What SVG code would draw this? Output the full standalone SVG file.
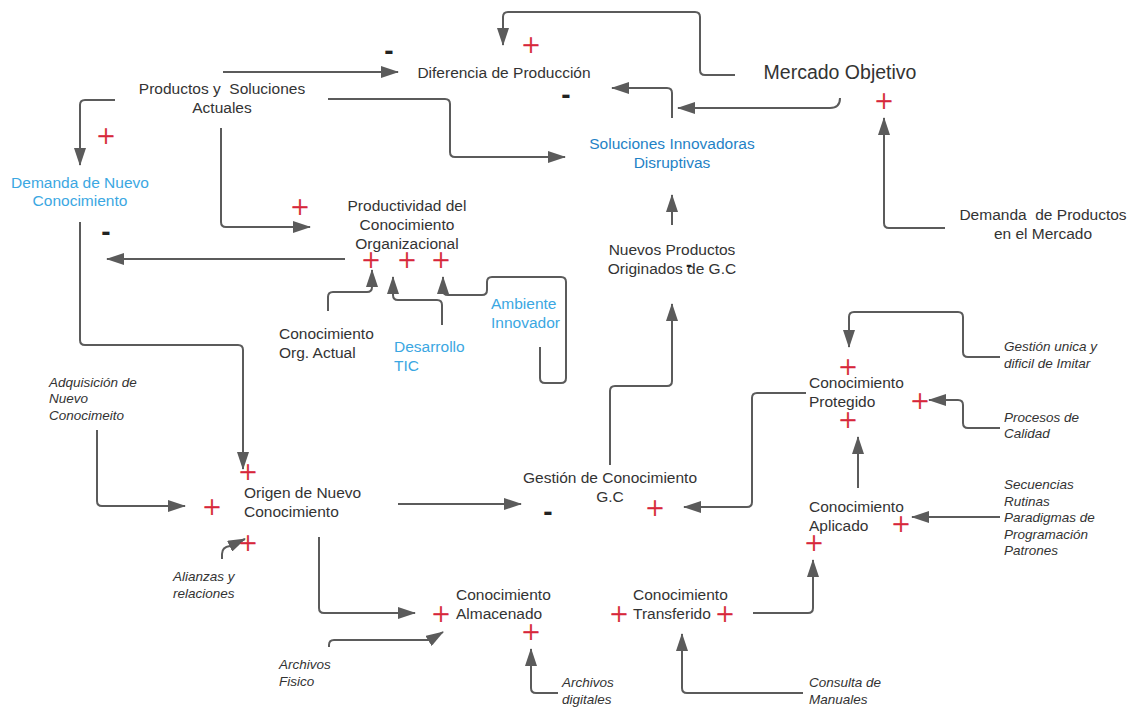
<svg xmlns="http://www.w3.org/2000/svg" width="1140" height="709" viewBox="0 0 1140 709">
  <style>
    .t { font-family: "Liberation Sans", Arial, sans-serif; font-size: 15.5px; fill: #333333; }
    .big { font-size: 19.5px; }
    .i { font-family: "Liberation Sans", Arial, sans-serif; font-size: 13.5px; font-style: italic; fill: #333333; }
    .blue { fill: #3ba7e2; }
    .dblue { fill: #1f82c6; }
    .m { text-anchor: middle; }
    .plus { font-family: "Noto Sans CJK SC", sans-serif; font-size: 20px; fill: #d7263a; stroke: #d7263a; stroke-width: 0.6; text-anchor: middle; }
    .minus { font-family: "Liberation Sans", Arial, sans-serif; font-size: 28px; font-weight: bold; fill: #222222; text-anchor: middle; }
    .c { fill: none; stroke: #5b5b5b; stroke-width: 2; stroke-linejoin: round; marker-end: url(#arrow); }
  </style>
  <defs>
    <marker id="arrow" viewBox="0 0 18 12" refX="17" refY="6" markerWidth="18" markerHeight="12" markerUnits="userSpaceOnUse" orient="auto">
      <path d="M0,0 L18,6 L0,12 Z" fill="#5b5b5b"/>
    </marker>
  </defs>
  <rect width="1140" height="709" fill="#ffffff"/>

  <!-- connectors -->
  <g id="connectors">
    <path class="c" d="M223,72 H398"/>
    <path class="c" d="M735,75 H705 Q700,75 700,70 V17 Q700,12 695,12 H508 Q503,12 503,17 V45"/>
    <path class="c" d="M840,98 Q840,108 830,108 H678"/>
    <path class="c" d="M672,118 V93 Q672,88 667,88 H612"/>
    <path class="c" d="M328,99 H445 Q450,99 450,104 V152 Q450,157 455,157 H565"/>
    <path class="c" d="M115,100 H85 Q80,100 80,105 V165"/>
    <path class="c" d="M221,128 V222 Q221,227 226,227 H310"/>
    <path class="c" d="M345,259 H107"/>
    <path class="c" d="M80,222 V340 Q80,345 85,345 H238 Q243,345 243,350 V469"/>
    <path class="c" d="M328,311 V297 Q328,292 333,292 H367 Q372,292 372,287 V270"/>
    <path class="c" d="M442,325 V305 Q442,300 437,300 H398 Q393,300 393,295 V277"/>
    <path class="c" d="M540,347 V378 Q540,383 545,383 H561 Q566,383 566,378 V282 Q566,277 561,277 H492 Q487,277 487,282 V290 Q487,295 482,295 H448 Q443,295 443,290 V277"/>
    <path class="c" d="M672,225 V195"/>
    <path class="c" d="M945,228 H889 Q884,228 884,223 V118"/>
    <path class="c" d="M610,465 V391 Q610,386 615,386 H667 Q672,386 672,381 V304"/>
    <path class="c" d="M806,393 H757 Q752,393 752,398 V502 Q752,507 747,507 H684"/>
    <path class="c" d="M398,504 H521"/>
    <path class="c" d="M97,430 V501 Q97,506 102,506 H185"/>
    <path class="c" d="M222,559 V554 Q222,547 230,546 L245,539"/>
    <path class="c" d="M319,537 V608 Q319,613 324,613 H415"/>
    <path class="c" d="M329,647 V645 Q329,640 334,640 H430 L443,632"/>
    <path class="c" d="M558,693 H536 Q531,693 531,688 V649"/>
    <path class="c" d="M803,693 H687 Q682,693 682,688 V634"/>
    <path class="c" d="M753,613 H808 Q813,613 813,608 V560"/>
    <path class="c" d="M858,488 V437"/>
    <path class="c" d="M1000,517 H912"/>
    <path class="c" d="M1000,428 H968 Q963,428 963,423 V405 Q963,400 958,400 H929"/>
    <path class="c" d="M1000,357 H968 Q963,357 963,352 V317 Q963,312 958,312 H854 Q849,312 849,317 V347"/>
  </g>

  <!-- nodes -->
  <g id="diferencia-produccion"><text class="t m" x="504" y="78">Diferencia de Producción</text></g>
  <g id="mercado-objetivo"><text class="t big m" x="840" y="79">Mercado Objetivo</text></g>
  <g id="productos-soluciones">
    <text class="t m" x="222" y="94" xml:space="preserve">Productos y  Soluciones</text>
    <text class="t m" x="222" y="113">Actuales</text>
  </g>
  <g id="soluciones-innovadoras">
    <text class="t dblue m" x="672" y="149">Soluciones Innovadoras</text>
    <text class="t dblue m" x="672" y="168">Disruptivas</text>
  </g>
  <g id="demanda-nuevo-conocimiento">
    <text class="t blue m" x="80" y="188">Demanda de Nuevo</text>
    <text class="t blue m" x="80" y="206">Conocimiento</text>
  </g>
  <g id="productividad">
    <text class="t m" x="407" y="211">Productividad del</text>
    <text class="t m" x="407" y="230">Conocimiento</text>
    <text class="t m" x="407" y="249">Organizacional</text>
  </g>
  <g id="nuevos-productos">
    <text class="t m" x="672" y="255">Nuevos Productos</text>
    <text class="t m" x="672" y="274">Originados de G.C</text>
  </g>
  <g id="demanda-productos">
    <text class="t m" x="1043" y="220" xml:space="preserve">Demanda  de Productos</text>
    <text class="t m" x="1043" y="239">en el Mercado</text>
  </g>
  <g id="conocimiento-org-actual">
    <text class="t" x="279" y="339">Conocimiento</text>
    <text class="t" x="279" y="358">Org. Actual</text>
  </g>
  <g id="desarrollo-tic">
    <text class="t blue" x="394" y="352">Desarrollo</text>
    <text class="t blue" x="394" y="371">TIC</text>
  </g>
  <g id="ambiente-innovador">
    <text class="t blue" x="491" y="309">Ambiente</text>
    <text class="t blue" x="491" y="328">Innovador</text>
  </g>
  <g id="conocimiento-protegido">
    <text class="t" x="809" y="388">Conocimiento</text>
    <text class="t" x="809" y="407">Protegido</text>
  </g>
  <g id="conocimiento-aplicado">
    <text class="t" x="809" y="512">Conocimiento</text>
    <text class="t" x="809" y="531">Aplicado</text>
  </g>
  <g id="gestion-conocimiento">
    <text class="t m" x="610" y="483">Gestión de Conocimiento</text>
    <text class="t m" x="610" y="502">G.C</text>
  </g>
  <g id="origen-nuevo-conocimiento">
    <text class="t" x="244" y="498">Origen de Nuevo</text>
    <text class="t" x="244" y="517">Conocimiento</text>
  </g>
  <g id="conocimiento-almacenado">
    <text class="t" x="456" y="600">Conocimiento</text>
    <text class="t" x="456" y="619">Almacenado</text>
  </g>
  <g id="conocimiento-transferido">
    <text class="t" x="633" y="600">Conocimiento</text>
    <text class="t" x="633" y="619">Transferido</text>
  </g>
  <g id="gestion-unica">
    <text class="i" x="1004" y="351">Gestión unica y</text>
    <text class="i" x="1004" y="368">dificil de Imitar</text>
  </g>
  <g id="procesos-calidad">
    <text class="i" x="1004" y="422">Procesos de</text>
    <text class="i" x="1004" y="438">Calidad</text>
  </g>
  <g id="secuencias">
    <text class="i" x="1004" y="489">Secuencias</text>
    <text class="i" x="1004" y="506">Rutinas</text>
    <text class="i" x="1004" y="522">Paradigmas de</text>
    <text class="i" x="1004" y="539">Programación</text>
    <text class="i" x="1004" y="555">Patrones</text>
  </g>
  <g id="adquisicion">
    <text class="i" x="49" y="387">Adquisición de</text>
    <text class="i" x="49" y="403">Nuevo</text>
    <text class="i" x="49" y="420">Conocimeito</text>
  </g>
  <g id="alianzas">
    <text class="i" x="173" y="581">Alianzas y</text>
    <text class="i" x="173" y="598">relaciones</text>
  </g>
  <g id="archivos-fisico">
    <text class="i" x="279" y="669">Archivos</text>
    <text class="i" x="279" y="686">Fisico</text>
  </g>
  <g id="archivos-digitales">
    <text class="i" x="562" y="687">Archivos</text>
    <text class="i" x="562" y="704">digitales</text>
  </g>
  <g id="consulta-manuales">
    <text class="i" x="809" y="687">Consulta de</text>
    <text class="i" x="809" y="704">Manuales</text>
  </g>

  <!-- link polarity signs (fullwidth plus, baseline = centre + 7.6) -->
  <g id="polarity">
    <text class="plus" x="531" y="53">＋</text>
    <text class="plus" x="884" y="109">＋</text>
    <text class="plus" x="106" y="144">＋</text>
    <text class="plus" x="300" y="215">＋</text>
    <text class="plus" x="371" y="268">＋</text>
    <text class="plus" x="407" y="268">＋</text>
    <text class="plus" x="441" y="268">＋</text>
    <text class="plus" x="248" y="480">＋</text>
    <text class="plus" x="212" y="515">＋</text>
    <text class="plus" x="248" y="551">＋</text>
    <text class="plus" x="848" y="375">＋</text>
    <text class="plus" x="920" y="409">＋</text>
    <text class="plus" x="848" y="428">＋</text>
    <text class="plus" x="901" y="532">＋</text>
    <text class="plus" x="814" y="551">＋</text>
    <text class="plus" x="655" y="516">＋</text>
    <text class="plus" x="441" y="622">＋</text>
    <text class="plus" x="531" y="640">＋</text>
    <text class="plus" x="619" y="622">＋</text>
    <text class="plus" x="725" y="622">＋</text>
    <text class="minus" x="389" y="60">-</text>
    <text class="minus" x="566" y="104">-</text>
    <text class="minus" x="106" y="241">-</text>
    <text class="minus" x="548" y="521">-</text>
    <text class="minus" x="689" y="271" style="font-size:18px">-</text>
  </g>
</svg>
